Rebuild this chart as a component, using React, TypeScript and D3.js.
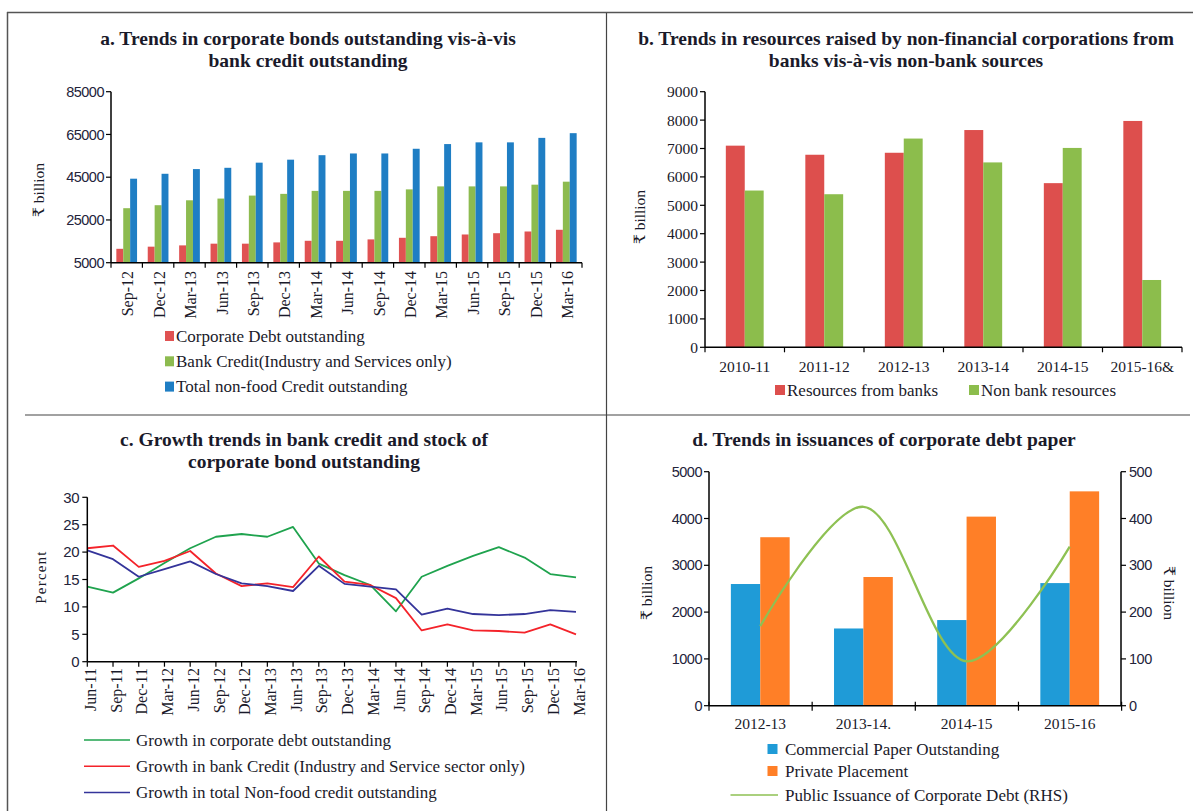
import React from "react";
import * as d3 from "d3";

// ---------- Data ----------
const catsA = ["Sep-12","Dec-12","Mar-13","Jun-13","Sep-13","Dec-13","Mar-14","Jun-14","Sep-14","Dec-14","Mar-15","Jun-15","Sep-15","Dec-15","Mar-16"];
const corpDebt = [11500,12500,13100,13900,13900,14500,15250,15250,15900,16650,17400,18200,18800,19600,20400];
const bankCredit = [30500,31900,34200,35000,36400,37200,38600,38600,38600,39300,40700,40700,40700,41500,42900];
const nonFoodCredit = [44300,46600,48800,49400,51800,53200,55300,56100,56100,58300,60500,61300,61300,63400,65600];
const ticksA = [5000,25000,45000,65000,85000];

const catsB = ["2010-11","2011-12","2012-13","2013-14","2014-15","2015-16&"];
const fromBanks = [7100,6780,6850,7650,5780,7970];
const nonBank = [5520,5390,7350,6510,7020,2370];
const ticksB = [0,1000,2000,3000,4000,5000,6000,7000,8000,9000];

const catsC = ["Jun-11","Sep-11","Dec-11","Mar-12","Jun-12","Sep-12","Dec-12","Mar-13","Jun-13","Sep-13","Dec-13","Mar-14","Jun-14","Sep-14","Dec-14","Mar-15","Jun-15","Sep-15","Dec-15","Mar-16"];
const growthCorp = [13.7,12.6,15.2,18.0,20.7,22.8,23.3,22.8,24.6,17.9,15.8,14.0,9.2,15.5,17.5,19.3,20.9,19.0,16.0,15.4];
const growthBank = [20.7,21.2,17.3,18.4,20.2,16.1,13.8,14.3,13.6,19.2,14.6,14.0,11.6,5.7,6.8,5.7,5.6,5.3,6.8,5.0];
const growthNonFood = [20.3,18.7,15.5,16.9,18.3,16.0,14.3,13.8,12.9,17.5,14.2,13.7,13.2,8.6,9.7,8.7,8.5,8.7,9.4,9.1];
const ticksC = [0,5,10,15,20,25,30];

const catsD = ["2012-13","2013-14.","2014-15","2015-16"];
const commercialPaper = [2600,1650,1830,2620];
const privatePlacement = [3600,2750,4040,4580];
const publicIssuance = [170,425,95,340];
const ticksDL = [0,1000,2000,3000,4000,5000];
const ticksDR = [0,100,200,300,400,500];

// ---------- Styles ----------
const SERIF = "'Liberation Serif', 'DejaVu Serif', serif";
const SANS = "'Liberation Sans', Arial, sans-serif";
const TXT = "#23233a";
const INK = "#1a1a2a";
const LEG = 17;

const Title = ({ x, y, lines }: { x: number; y: number; lines: string[] }) => (
  <g>
    {lines.map((l, i) => (
      <text key={i} x={x} y={y + i * 22} textAnchor="middle" fontFamily={SERIF} fontWeight="bold" fontSize={19.5} fill={INK}>{l}</text>
    ))}
  </g>
);

function PanelA() {
  const X0 = 111, X1 = 582, YT = 91.7, YB = 262.7;
  const x = d3.scaleBand<string>().domain(catsA).range([X0, X1]).paddingInner(0.34).paddingOuter(0.17);
  const sub = d3.scaleBand<number>().domain([0, 1, 2]).range([0, x.bandwidth()]);
  const y = d3.scaleLinear().domain([5000, 85000]).range([YB, YT]);
  const series = [
    { vals: corpDebt, color: "#e05252", name: "Corporate Debt outstanding" },
    { vals: bankCredit, color: "#8dbb4f", name: "Bank Credit(Industry and Services only)" },
    { vals: nonFoodCredit, color: "#1f7ec4", name: "Total non-food Credit outstanding" },
  ];
  const step = x.step();
  return (
    <g>
      <Title x={308} y={45} lines={["a. Trends in corporate bonds outstanding vis-à-vis", "bank credit outstanding"]} />
      {series.map((s, si) =>
        catsA.map((c, i) => (
          <rect key={`${si}-${i}`} x={(x(c) ?? 0) + (sub(si) ?? 0)} y={y(s.vals[i])} width={sub.bandwidth()} height={y(5000) - y(s.vals[i])} fill={s.color} />
        ))
      )}
      <line x1={X0} x2={X0} y1={YT} y2={YB} stroke="#000" strokeWidth={1.5} />
      <line x1={X0} x2={X1} y1={YB} y2={YB} stroke="#000" strokeWidth={1.5} />
      {ticksA.map((t) => (
        <g key={t}>
          <line x1={X0 - 5} x2={X0} y1={y(t)} y2={y(t)} stroke="#000" strokeWidth={1.2} />
          <text x={X0 - 7} y={y(t)} dy="0.35em" textAnchor="end" fontFamily={SANS} fontSize={14.5} letterSpacing={-0.5} fill={TXT}>{t}</text>
        </g>
      ))}
      {d3.range(catsA.length + 1).map((i) => (
        <line key={i} x1={X0 + i * step} x2={X0 + i * step} y1={YB} y2={YB + 5} stroke="#000" strokeWidth={1.2} />
      ))}
      {catsA.map((c) => {
        const cx = (x(c) ?? 0) + x.bandwidth() / 2;
        return (
          <text key={c} transform={`translate(${cx + 1},${271}) rotate(-90)`} dy="0.35em" textAnchor="end" fontFamily={SERIF} fontSize={16} fill={INK}>{c}</text>
        );
      })}
      <text transform="translate(44,190) rotate(-90)" textAnchor="middle" fontFamily={SERIF} fontSize={15.5} fill={INK}>₹ billion</text>
      {series.map((s, i) => (
        <g key={s.name}>
          <rect x={165} y={331 + i * 25.3} width={9} height={10} fill={s.color} />
          <text x={176} y={341.5 + i * 25.3} fontFamily={SERIF} fontSize={LEG} fill={INK}>{s.name}</text>
        </g>
      ))}
    </g>
  );
}

function PanelB() {
  const X0 = 705, X1 = 1182, YT = 91.7, YB = 347.3;
  const x = d3.scaleBand<string>().domain(catsB).range([X0, X1]).paddingInner(0.524).paddingOuter(0.262);
  const sub = d3.scaleBand<number>().domain([0, 1]).range([0, x.bandwidth()]);
  const y = d3.scaleLinear().domain([0, 9000]).range([YB, YT]);
  const series = [
    { vals: fromBanks, color: "#dd4f4d", name: "Resources from banks" },
    { vals: nonBank, color: "#8cbd4c", name: "Non bank resources" },
  ];
  const step = x.step();
  return (
    <g>
      <Title x={906} y={45} lines={["b. Trends in resources raised by non-financial corporations from", "banks vis-à-vis non-bank sources"]} />
      {series.map((s, si) =>
        catsB.map((c, i) => (
          <rect key={`${si}-${i}`} x={(x(c) ?? 0) + (sub(si) ?? 0)} y={y(s.vals[i])} width={sub.bandwidth()} height={y(0) - y(s.vals[i])} fill={s.color} />
        ))
      )}
      <line x1={X0} x2={X0} y1={YT} y2={YB} stroke="#000" strokeWidth={1.5} />
      <line x1={X0} x2={X1} y1={YB} y2={YB} stroke="#000" strokeWidth={1.5} />
      {ticksB.map((t) => (
        <g key={t}>
          <line x1={X0 - 5} x2={X0} y1={y(t)} y2={y(t)} stroke="#000" strokeWidth={1.2} />
          <text x={X0 - 7} y={y(t)} dy="0.35em" textAnchor="end" fontFamily={SERIF} fontSize={15.5} fill={INK}>{t}</text>
        </g>
      ))}
      {d3.range(catsB.length + 1).map((i) => (
        <line key={i} x1={X0 + i * step} x2={X0 + i * step} y1={YB} y2={YB + 5} stroke="#000" strokeWidth={1.2} />
      ))}
      {catsB.map((c) => (
        <text key={c} x={(x(c) ?? 0) + x.bandwidth() / 2} y={371.5} textAnchor="middle" fontFamily={SERIF} fontSize={15.5} fill={INK}>{c}</text>
      ))}
      <text transform="translate(645,217) rotate(-90)" textAnchor="middle" fontFamily={SERIF} fontSize={15.5} fill={INK}>₹ billion</text>
      {series.map((s, i) => {
        const lx = i === 0 ? 775 : 969;
        return (
          <g key={s.name}>
            <rect x={lx} y={385} width={10} height={10} fill={s.color} />
            <text x={lx + 12} y={395.5} fontFamily={SERIF} fontSize={LEG} fill={INK}>{s.name}</text>
          </g>
        );
      })}
    </g>
  );
}

function PanelC() {
  const X0 = 87.3, X1 = 576, YT = 497.3, YB = 661.7;
  const x = d3.scalePoint<string>().domain(catsC).range([X0, X1]);
  const y = d3.scaleLinear().domain([0, 30]).range([YB, YT]);
  const series = [
    { vals: growthCorp, color: "#1fa34e", name: "Growth in corporate debt outstanding" },
    { vals: growthBank, color: "#f4232a", name: "Growth in bank Credit (Industry and Service sector only)" },
    { vals: growthNonFood, color: "#34349a", name: "Growth in total Non-food credit outstanding" },
  ];
  const line = d3.line<number>().x((_, i) => x(catsC[i]) ?? 0).y((v) => y(v));
  return (
    <g>
      <Title x={304} y={446} lines={["c. Growth trends in bank credit and stock of", "corporate bond outstanding"]} />
      {series.map((s) => (
        <path key={s.name} d={line(s.vals) ?? ""} fill="none" stroke={s.color} strokeWidth={1.8} strokeLinejoin="round" />
      ))}
      <line x1={X0} x2={X0} y1={YT} y2={YB} stroke="#000" strokeWidth={1.5} />
      <line x1={X0} x2={X1 + 1} y1={YB} y2={YB} stroke="#000" strokeWidth={1.5} />
      {ticksC.map((t) => (
        <g key={t}>
          <line x1={X0 - 5} x2={X0} y1={y(t)} y2={y(t)} stroke="#000" strokeWidth={1.2} />
          <text x={X0 - 8} y={y(t)} dy="0.35em" textAnchor="end" fontFamily={SANS} fontSize={15} letterSpacing={-0.3} fill={TXT}>{t}</text>
        </g>
      ))}
      {catsC.map((c) => (
        <g key={c}>
          <line x1={x(c)} x2={x(c)} y1={YB} y2={YB + 5} stroke="#000" strokeWidth={1.2} />
          <text transform={`translate(${(x(c) ?? 0) + 3},${668}) rotate(-90)`} dy="0.35em" textAnchor="end" fontFamily={SERIF} fontSize={16} fill={INK}>{c}</text>
        </g>
      ))}
      <text transform="translate(46,577) rotate(-90)" textAnchor="middle" fontFamily={SERIF} fontSize={15} letterSpacing={1.2} fill={INK}>Percent</text>
      {series.map((s, i) => (
        <g key={s.name}>
          <line x1={84} x2={130} y1={740 + i * 26.3} y2={740 + i * 26.3} stroke={s.color} strokeWidth={1.5} />
          <text x={136} y={745.5 + i * 26.3} fontFamily={SERIF} fontSize={LEG} fill={INK}>{s.name}</text>
        </g>
      ))}
    </g>
  );
}

function PanelD() {
  const X0 = 709, X1 = 1121, YT = 471.7, YB = 705.7;
  const x = d3.scaleBand<string>().domain(catsD).range([X0, X1]).paddingInner(0.43).paddingOuter(0.212);
  const sub = d3.scaleBand<number>().domain([0, 1]).range([0, x.bandwidth()]);
  const y = d3.scaleLinear().domain([0, 5000]).range([YB, YT]);
  const y2 = d3.scaleLinear().domain([0, 500]).range([YB, YT]);
  const series = [
    { vals: commercialPaper, color: "#1f9bd7", name: "Commercial Paper Outstanding" },
    { vals: privatePlacement, color: "#ff7f27", name: "Private Placement" },
  ];
  const line = d3
    .line<number>()
    .x((_, i) => (x(catsD[i]) ?? 0) + x.bandwidth() / 2)
    .y((v) => y2(v))
    .curve(d3.curveCatmullRom.alpha(0.5));
  const step = x.step();
  return (
    <g>
      <Title x={884} y={446} lines={["d. Trends in issuances of corporate debt paper"]} />
      {series.map((s, si) =>
        catsD.map((c, i) => (
          <rect key={`${si}-${i}`} x={(x(c) ?? 0) + (sub(si) ?? 0)} y={y(s.vals[i])} width={sub.bandwidth()} height={y(0) - y(s.vals[i])} fill={s.color} />
        ))
      )}
      <path d={line(publicIssuance) ?? ""} fill="none" stroke="#8ec153" strokeWidth={2.3} />
      <line x1={X0} x2={X0} y1={YT} y2={YB} stroke="#000" strokeWidth={1.5} />
      <line x1={X1} x2={X1} y1={YT} y2={YB} stroke="#000" strokeWidth={1.5} />
      <line x1={X0} x2={X1} y1={YB} y2={YB} stroke="#000" strokeWidth={1.5} />
      {ticksDL.map((t) => (
        <g key={t}>
          <line x1={X0 - 5} x2={X0} y1={y(t)} y2={y(t)} stroke="#000" strokeWidth={1.2} />
          <text x={X0 - 7} y={y(t)} dy="0.35em" textAnchor="end" fontFamily={SANS} fontSize={14.5} letterSpacing={-0.5} fill={TXT}>{t}</text>
        </g>
      ))}
      {ticksDR.map((t) => (
        <g key={t}>
          <line x1={X1} x2={X1 + 5} y1={y2(t)} y2={y2(t)} stroke="#000" strokeWidth={1.2} />
          <text x={X1 + 8} y={y2(t)} dy="0.35em" textAnchor="start" fontFamily={SANS} fontSize={14.5} letterSpacing={-0.5} fill={TXT}>{t}</text>
        </g>
      ))}
      {d3.range(catsD.length + 1).map((i) => (
        <line key={i} x1={X0 + i * step} x2={X0 + i * step} y1={YB - 4} y2={YB + 5} stroke="#000" strokeWidth={1.2} />
      ))}
      {catsD.map((c) => (
        <text key={c} x={(x(c) ?? 0) + x.bandwidth() / 2} y={728.5} textAnchor="middle" fontFamily={SERIF} fontSize={15.5} fill={INK}>{c}</text>
      ))}
      <text transform="translate(652,593) rotate(-90)" textAnchor="middle" fontFamily={SERIF} fontSize={15.5} fill={INK}>₹ billion</text>
      <text transform="translate(1164,593) rotate(90)" textAnchor="middle" fontFamily={SERIF} fontSize={15.5} fill={INK}>₹ billion</text>
      {series.map((s, i) => (
        <g key={s.name}>
          <rect x={767.5} y={744 + i * 22} width={10} height={10} fill={s.color} />
          <text x={785} y={754.5 + i * 22} fontFamily={SERIF} fontSize={LEG} fill={INK}>{s.name}</text>
        </g>
      ))}
      <line x1={730.5} x2={778} y1={795} y2={795} stroke="#8ec153" strokeWidth={1.5} />
      <text x={785} y={800.5} fontFamily={SERIF} fontSize={LEG} fill={INK}>Public Issuance of Corporate Debt (RHS)</text>
    </g>
  );
}

export default function App() {
  return (
    <div style={{ position: "absolute", left: 0, top: 0 }}>
      <svg width={1193} height={811} style={{ display: "block", background: "#fff" }}>
        <rect x={0} y={0} width={1193} height={811} fill="#fff" />
        <line x1={7} x2={1193} y1={12.5} y2={12.5} stroke="#555" strokeWidth={1.5} />
        <line x1={7.5} x2={7.5} y1={12} y2={811} stroke="#555" strokeWidth={1.5} />
        <line x1={606.5} x2={606.5} y1={13} y2={811} stroke="#444" strokeWidth={1.2} />
        <line x1={25} x2={1190} y1={415} y2={415} stroke="#444" strokeWidth={1.2} />
        <PanelA />
        <PanelB />
        <PanelC />
        <PanelD />
      </svg>
    </div>
  );
}
